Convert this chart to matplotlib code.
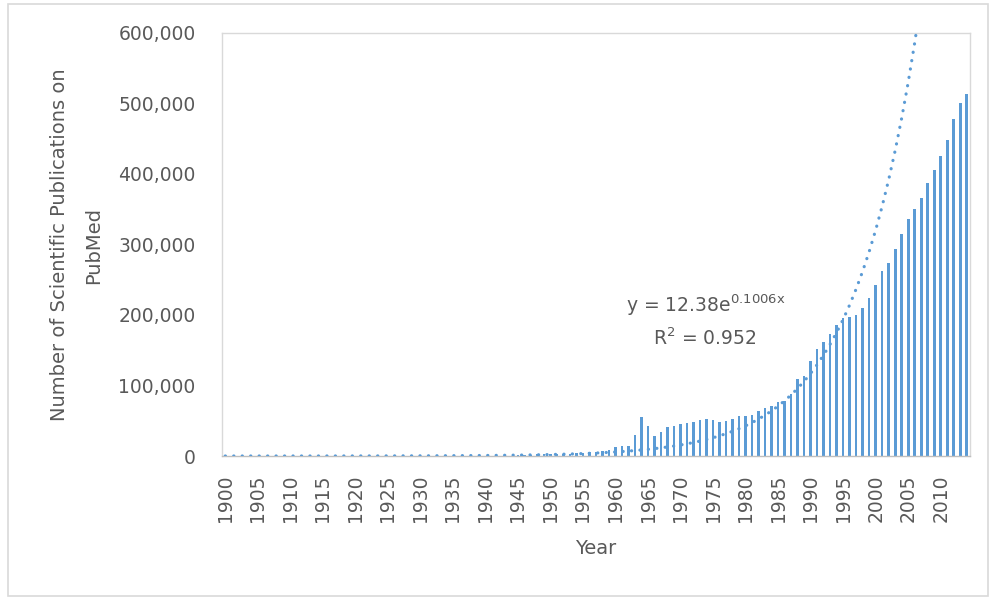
import numpy as np
import matplotlib
matplotlib.use("Agg")
import matplotlib.pyplot as plt
from matplotlib.patches import Rectangle

plt.rcParams['font.family'] = ['DejaVu Sans']
plt.rcParams['mathtext.fontset'] = 'dejavusans'

# ---- data ----
years = list(range(1900, 2015))
counts_1900_1944 = [120, 130, 150, 140, 160, 170, 160, 180, 190, 200,
                    210, 220, 230, 210, 200, 180, 170, 190, 200, 250,
                    300, 320, 340, 360, 380, 400, 420, 430, 450, 470,
                    500, 520, 540, 560, 580, 600, 620, 640, 660, 650,
                    600, 580, 560, 550, 600]
counts_1945_1959 = [900, 1400, 2000, 2300, 2600, 2900, 3100, 3300, 3500, 3800,
                    4300, 5000, 5900, 7200, 8800]
counts_1960_1986 = [12700, 13600, 14500, 30000, 55000, 42700, 29000, 33800, 40400, 43200,
                    45000, 47400, 48800, 51000, 52000, 51000, 48800, 49800, 52600, 57300,
                    57300, 58000, 63800, 67600, 71400, 77000, 78500]
counts_1987_2014 = [87300, 108900, 113600, 135000, 152000, 162000, 173000, 185900, 195800, 197600,
                    200000, 210300, 223500, 242800, 262400, 272800, 293000, 314100, 335200, 350300,
                    365800, 386900, 404700, 424400, 447900, 477000, 499500, 512700]
counts = counts_1900_1944 + counts_1945_1959 + counts_1960_1986 + counts_1987_2014

trend_a = 12.38
trend_b = 0.1006
trend_r2 = 0.952

y_ticks = [0, 100000, 200000, 300000, 400000, 500000, 600000]
x_tick_years = [1900, 1905, 1910, 1915, 1920, 1925, 1930, 1935, 1940, 1945, 1950,
                1955, 1960, 1965, 1970, 1975, 1980, 1985, 1990, 1995, 2000, 2005, 2010]

BLUE = '#5B9BD5'
GRAY_TXT = '#595959'
GRAY_LINE = '#D9D9D9'

W, H = 990, 600
fig = plt.figure(figsize=(W / 100, H / 100), dpi=100)
fig.patch.set_facecolor('white')

# outer chart border
fig.add_artist(Rectangle((8 / W, 4 / H), (988 - 8) / W, (596 - 4) / H,
                         transform=fig.transFigure, fill=False,
                         edgecolor=GRAY_LINE, linewidth=1.2))

left, right, top, bottom = 222, 970, 32.5, 456
ax = fig.add_axes([left / W, 1 - bottom / H, (right - left) / W, (bottom - top) / H])

idx = np.arange(len(years))
ax.bar(idx, counts, width=0.4, color=BLUE, zorder=2)

# exponential trendline from the fitted equation (x = 1..n)
xt = np.arange(1, len(years) + 1)
yt = trend_a * np.exp(trend_b * xt)
ax.plot(idx, yt, color=BLUE, linewidth=2.3, linestyle=(0, (0.05, 2.6)),
        dash_capstyle='round', zorder=3, clip_on=True)

ax.set_xlim(-0.5, len(years) - 0.5)
ax.set_ylim(0, 600000)

ax.set_yticks(y_ticks)
ax.set_yticklabels([f"{v:,}" for v in y_ticks])
ax.set_xticks([years.index(y) for y in x_tick_years])
ax.set_xticklabels([str(y) for y in x_tick_years], rotation=90)

ax.tick_params(axis='y', length=0, pad=19, labelsize=13.5, labelcolor=GRAY_TXT)
ax.tick_params(axis='x', length=0, pad=13, labelsize=13.5, labelcolor=GRAY_TXT)

for s in ax.spines.values():
    s.set_color(GRAY_LINE)
    s.set_linewidth(1.0)
ax.spines['bottom'].set_color('#BFBFBF')

# axis titles
fig.text(60 / W, 1 - 245 / H, "Number of Scientific Publications on", rotation=90,
         ha='center', va='center', fontsize=14, color=GRAY_TXT)
fig.text(94 / W, 1 - 245 / H, "PubMed", rotation=90,
         ha='center', va='center', fontsize=14, color=GRAY_TXT)
fig.text(596 / W, 1 - 548 / H, "Year", ha='center', va='center',
         fontsize=14, color=GRAY_TXT)

# trendline label
fig.text(706 / W, 1 - 305 / H, r"y = 12.38e$^{\mathrm{0.1006x}}$", ha='center', va='center',
         fontsize=13.5, color=GRAY_TXT)
fig.text(705 / W, 1 - 338 / H, r"R$^{2}$ = " + f"{trend_r2}", ha='center', va='center',
         fontsize=13.5, color=GRAY_TXT)

fig.savefig("out.png", dpi=100, facecolor='white')
